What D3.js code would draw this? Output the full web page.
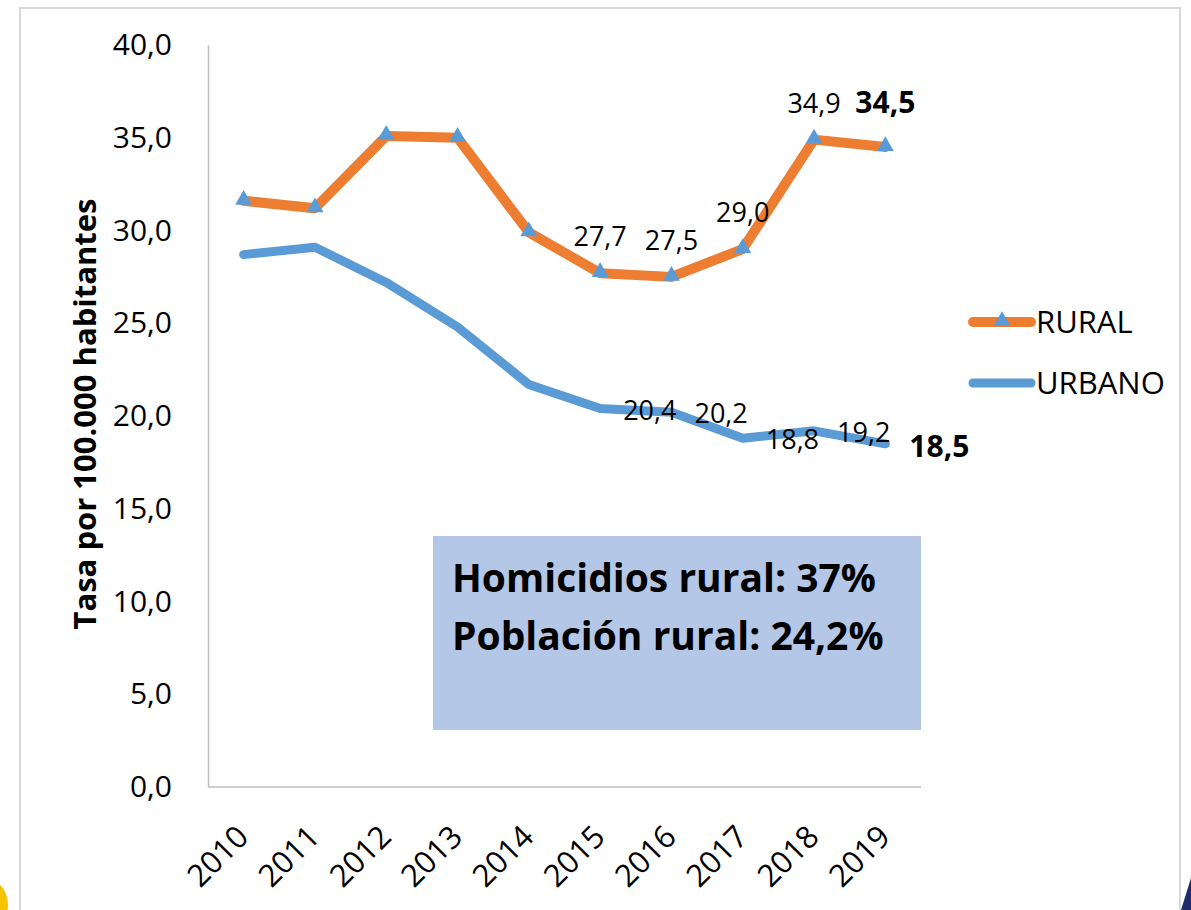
<!DOCTYPE html>
<html>
<head>
<meta charset="utf-8">
<script src="https://cdn.jsdelivr.net/npm/d3@7/dist/d3.min.js"></script>
<style>
  html, body { margin: 0; padding: 0; background: #ffffff; }
  svg { display: block; font-family: "Open Sans", "Noto Sans", sans-serif; }
</style>
</head>
<body>
<svg id="chart" width="1191" height="910"></svg>
<script>
// ---- data ----
const years = ["2010","2011","2012","2013","2014","2015","2016","2017","2018","2019"];
const rural = [31.6, 31.2, 35.1, 35.0, 29.9, 27.7, 27.5, 29.0, 34.9, 34.5];
const urbano = [28.7, 29.1, 27.2, 24.8, 21.7, 20.4, 20.2, 18.8, 19.2, 18.5];
const yTicks = [0, 5, 10, 15, 20, 25, 30, 35, 40];
const seriesNames = ["RURAL", "URBANO"];
const ruralLabelYears = ["2015","2016","2017","2018","2019"];
const urbanoLabelYears = ["2015","2016","2017","2018","2019"];
const boxLines = ["Homicidios rural: 37%", "Población rural: 24,2%"];
const yTitle = "Tasa por 100.000 habitantes";

// ---- setup ----
const svg = d3.select("#chart");
const orange = "#ed7d31", blue = "#5b9bd5", axisGray = "#bfbfbf";
const loc = d3.formatLocale({decimal: ",", thousands: ".", grouping: [3], currency: ["", ""]});
const fmt = loc.format(".1f");

const x = d3.scalePoint().domain(years).range([208, 921]).padding(0.5);
const y = d3.scaleLinear().domain([0, 40]).range([787, 45]);

// outer frame
svg.append("rect").attr("x", 20).attr("y", 8).attr("width", 1160).attr("height", 920)
  .attr("fill", "none").attr("stroke", "#d9d9d9").attr("stroke-width", 2);

// decorative corners
svg.append("circle").attr("cx", -22).attr("cy", 905).attr("r", 30).attr("fill", "#f5c400");
svg.append("path").attr("d", "M1191,878 L1191,910 L1181,910 Z").attr("fill", "#1f2a6b");

// annotation box
svg.append("rect").attr("x", 433).attr("y", 536).attr("width", 488).attr("height", 194)
  .attr("fill", "#b4c7e7");
svg.append("g").selectAll("text").data(boxLines).join("text")
  .attr("x", 452).attr("y", (d, i) => 592 + i * 58)
  .attr("font-size", 39).attr("font-weight", "bold").attr("fill", "#000")
  .text(d => d);

// y axis
const yAxis = svg.append("g").attr("transform", "translate(208,0)")
  .call(d3.axisLeft(y).tickValues(yTicks).tickFormat(fmt).tickSize(0).tickPadding(36));
yAxis.select(".domain").attr("stroke", axisGray).attr("stroke-width", 1.5);
yAxis.selectAll("text").attr("font-size", 30).attr("fill", "#000")
  .attr("font-family", "'Open Sans', sans-serif");

// x axis
const xAxis = svg.append("g").attr("transform", "translate(0,787)")
  .call(d3.axisBottom(x).tickSize(0).tickFormat(""));
xAxis.select(".domain").attr("stroke", axisGray).attr("stroke-width", 1.5)
  .attr("d", "M208,0H921");
svg.append("g").selectAll("text").data(years).join("text")
  .attr("transform", d => `translate(${x(d) - 1},831) rotate(-45)`)
  .attr("text-anchor", "end").attr("dy", "0.35em")
  .attr("font-size", 31).attr("fill", "#000")
  .text(d => d);

// y title
svg.append("text")
  .attr("transform", "translate(96,414) rotate(-90)")
  .attr("text-anchor", "middle")
  .attr("font-size", 31).attr("font-weight", "bold").attr("fill", "#000")
  .text(yTitle);

// lines
const line = d3.line().x((d, i) => x(years[i])).y(d => y(d));
svg.append("path").datum(urbano).attr("d", line)
  .attr("fill", "none").attr("stroke", blue).attr("stroke-width", 9)
  .attr("stroke-linecap", "round").attr("stroke-linejoin", "round");
svg.append("path").datum(rural).attr("d", line)
  .attr("fill", "none").attr("stroke", orange).attr("stroke-width", 10)
  .attr("stroke-linecap", "round").attr("stroke-linejoin", "round");

const tri = d3.symbol().type(d3.symbolTriangle).size(125);
svg.append("g").selectAll("path").data(rural).join("path")
  .attr("d", tri)
  .attr("transform", (d, i) => `translate(${x(years[i])},${y(d) - 1})`)
  .attr("fill", blue);

// data labels rural (above)
svg.append("g").selectAll("text").data(ruralLabelYears).join("text")
  .attr("x", d => x(d))
  .attr("y", (d, i) => i === ruralLabelYears.length - 1 ? y(rural[years.indexOf(ruralLabelYears[i - 1])]) - 27 : y(rural[years.indexOf(d)]) - 27)
  .attr("text-anchor", "middle")
  .attr("font-size", (d, i) => i === ruralLabelYears.length - 1 ? 30 : 27)
  .attr("font-weight", (d, i) => i === ruralLabelYears.length - 1 ? "bold" : "normal")
  .attr("fill", "#000")
  .text(d => fmt(rural[years.indexOf(d)]));

// data labels urbano (right)
svg.append("g").selectAll("text").data(urbanoLabelYears).join("text")
  .attr("x", (d, i) => x(d) + (i === urbanoLabelYears.length - 1 ? 24 : 23))
  .attr("y", (d, i) => y(urbano[years.indexOf(d)]) + (i === urbanoLabelYears.length - 1 ? 13 : 11))
  .attr("text-anchor", "start")
  .attr("font-size", (d, i) => i === urbanoLabelYears.length - 1 ? 30 : 27)
  .attr("font-weight", (d, i) => i === urbanoLabelYears.length - 1 ? "bold" : "normal")
  .attr("fill", "#000")
  .text(d => fmt(urbano[years.indexOf(d)]));

// legend
const legend = svg.append("g");
const legY = [322, 383];
const legColors = [orange, blue];
seriesNames.forEach((name, i) => {
  legend.append("line").attr("x1", 973).attr("x2", 1031)
    .attr("y1", legY[i]).attr("y2", legY[i])
    .attr("stroke", legColors[i]).attr("stroke-width", i === 0 ? 10 : 9)
    .attr("stroke-linecap", "round");
  if (i === 0) {
    legend.append("path").attr("d", tri)
      .attr("transform", `translate(1002,${legY[i] - 1})`).attr("fill", blue);
  }
  legend.append("text").attr("x", 1036).attr("y", legY[i]).attr("dy", "0.35em")
    .attr("font-size", 31).attr("fill", "#000").text(name);
});
</script>
</body>
</html>
